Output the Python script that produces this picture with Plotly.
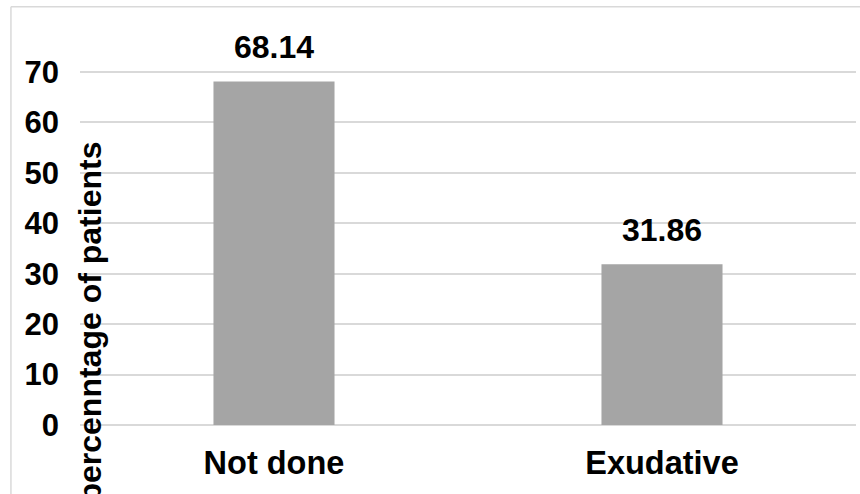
import plotly.graph_objects as go

# Pleural fluid analysis result vs share of patients
categories = ["Not done", "Exudative"]
percentages = [68.14, 31.86]
y_ticks = [0, 10, 20, 30, 40, 50, 60, 70]

FONT = "Liberation Sans, Arial, sans-serif"
BAR_COLOR = "#a5a5a5"
GRID_COLOR = "#d9d9d9"

fig = go.Figure()
fig.add_trace(go.Bar(
    x=categories,
    y=percentages,
    marker=dict(color=BAR_COLOR, line=dict(width=0)),
    width=0.312,
    hoverinfo="x+y",
))

# Value labels above each bar
for cat, val in zip(categories, percentages):
    fig.add_annotation(
        x=cat, y=val, xref="x", yref="y",
        text=f"{val:.2f}", showarrow=False,
        yanchor="middle", yshift=34,
        font=dict(family=FONT, size=32, color="#000000", weight="bold"),
    )

# Axis title, placed over the tick-label column
fig.add_annotation(
    text="percenntage of patients",
    xref="paper", yref="paper", x=0.0135, y=0.290,
    xanchor="center", yanchor="middle", textangle=-90, showarrow=False,
    font=dict(family=FONT, size=32, color="#000000", weight="bold"),
)

# Outer chart frame (top and left edges)
frame = dict(color=GRID_COLOR, width=1.5)
fig.add_shape(type="line", xref="paper", yref="paper",
              x0=-0.089, x1=1.01, y0=1.178, y1=1.178, line=frame)
fig.add_shape(type="line", xref="paper", yref="paper",
              x0=-0.089, x1=-0.089, y0=1.178, y1=-0.25, line=frame)

fig.update_layout(
    width=860, height=494,
    margin=dict(l=80, r=4, t=70, b=69),
    paper_bgcolor="#ffffff", plot_bgcolor="#ffffff",
    showlegend=False,
    font=dict(family=FONT, color="#000000"),
    xaxis=dict(
        showgrid=False, showline=False, ticks="",
        tickfont=dict(family=FONT, size=32.5, color="#000000", weight="bold"),
        ticklabelstandoff=15,
    ),
    yaxis=dict(
        range=[0, 70.4],
        tickvals=y_ticks,
        showgrid=True, gridcolor=GRID_COLOR, gridwidth=1.5,
        zeroline=True, zerolinecolor=GRID_COLOR, zerolinewidth=1.5,
        showline=False, ticks="",
        tickfont=dict(family=FONT, size=31, color="#000000", weight="bold"),
        ticklabelstandoff=20,
    ),
)

fig.write_html("out.html")
